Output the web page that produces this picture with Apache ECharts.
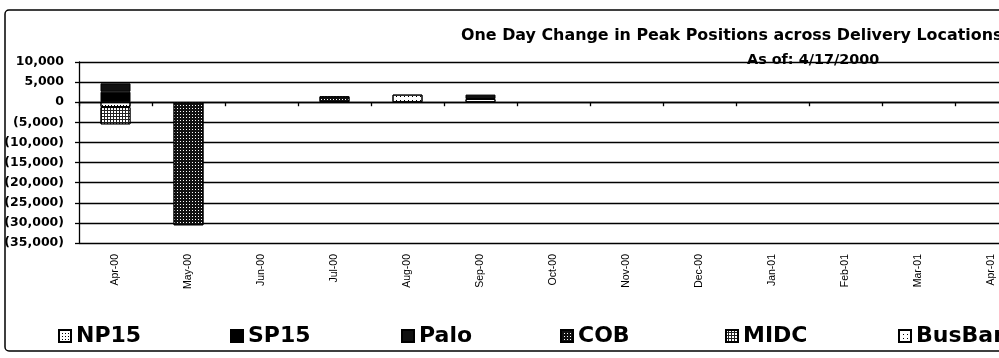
<!DOCTYPE html>
<html>
<head>
<meta charset="utf-8">
<script src="https://cdn.jsdelivr.net/npm/echarts@6/dist/echarts.min.js"></script>
<style>
  html, body { margin: 0; padding: 0; background: #fff; overflow: hidden; }
  #chart { width: 1040px; height: 358px; }
</style>
</head>
<body>
<div id="chart"></div>
<script>
// Delivery months on the category axis
const months = ['Apr-00', 'May-00', 'Jun-00', 'Jul-00', 'Aug-00', 'Sep-00', 'Oct-00',
                'Nov-00', 'Dec-00', 'Jan-01', 'Feb-01', 'Mar-01', 'Apr-01'];

// One-day change in peak position (MW) by delivery location
const np15   = [-1200,      0, 0,    0,    0,  800, 0, 0, 0, 0, 0, 0, 0];
const sp15   = [ 2600,      0, 0,    0,    0,    0, 0, 0, 0, 0, 0, 0, 0];
const palo   = [ 2100,      0, 0,    0,    0, 1100, 0, 0, 0, 0, 0, 0, 0];
const cob    = [    0, -30600, 0, 1500,    0,    0, 0, 0, 0, 0, 0, 0, 0];
const midc   = [-4300,      0, 0,    0,    0,    0, 0, 0, 0, 0, 0, 0, 0];
const busbar = [    0,      0, 0,    0, 1900,    0, 0, 0, 0, 0, 0, 0, 0];

// Location names in legend order
const locations = ['NP15', 'SP15', 'Palo', 'COB', 'MIDC', 'BusBar'];

// Value axis range and step
const yMin = -35000, yMax = 10000, yStep = 5000;

const titleText = 'One Day Change in Peak Positions across Delivery Locations';
const subtitleText = 'As of: 4/17/2000';

const FONT = '"DejaVu Sans", sans-serif';

function fmtNum(v) {
  const s = Math.abs(v).toLocaleString('en-US');
  return v < 0 ? '(' + s + ')' : s;
}

// Zero changes draw no bar segment at all
function segs(data) {
  return data.map(v => (v === 0 ? null : v));
}

function bar(name, data, color, decal) {
  const style = { color: color, borderColor: '#000', borderWidth: 1 };
  if (decal) style.decal = decal;
  return {
    name: name, type: 'bar', stack: 'loc', data: segs(data),
    barWidth: 30, xAxisIndex: 0, itemStyle: style
  };
}

// Legend entries spread evenly across the bottom band
const legendLeft = [58, 230, 401, 560, 725, 898];
const legends = locations.map((name, i) => ({
  left: legendLeft[i], top: 325, padding: 0,
  itemWidth: 12, itemHeight: 12, itemGap: 0,
  icon: 'rect',
  textStyle: { fontFamily: FONT, fontWeight: 'bold', fontSize: 22, color: '#000' },
  data: [name]
}));

const chart = echarts.init(document.getElementById('chart'), null, { renderer: 'canvas' });

chart.setOption({
  animation: false,
  backgroundColor: '#fff',
  title: [
    {
      text: titleText, left: 456, top: 23, padding: 5,
      textStyle: { fontFamily: FONT, fontWeight: 'bold', fontSize: 15.9, color: '#000' }
    },
    {
      text: subtitleText, left: 742, top: 48, padding: 5,
      textStyle: { fontFamily: FONT, fontWeight: 'bold', fontSize: 14.4, color: '#000' }
    }
  ],
  legend: legends,
  grid: { left: 79, top: 62, width: 949, height: 181, containLabel: false },
  xAxis: [
    {
      type: 'category', data: months, position: 'bottom',
      axisLine: { onZero: true, lineStyle: { color: '#000', width: 1.3 } },
      axisTick: { show: true, length: 4, lineStyle: { color: '#000', width: 1.3 } },
      axisLabel: { show: false },
      splitLine: { show: false }
    },
    {
      type: 'category', data: months, position: 'bottom',
      axisLine: { show: false, onZero: false },
      axisTick: { show: false },
      axisLabel: {
        interval: 0, rotate: 90, margin: 11,
        fontFamily: '"Liberation Sans", Arial, sans-serif', fontSize: 10.5, color: '#000'
      },
      splitLine: { show: false }
    }
  ],
  yAxis: {
    type: 'value', min: yMin, max: yMax, interval: yStep,
    axisLine: { show: true, lineStyle: { color: '#000', width: 1.3 } },
    axisTick: { show: true, length: 4, lineStyle: { color: '#000', width: 1.3 } },
    axisLabel: {
      formatter: fmtNum, margin: 15,
      fontFamily: FONT, fontWeight: 'bold', fontSize: 12.5, color: '#000'
    },
    splitLine: { show: true, lineStyle: { color: '#000', width: 1.3 } }
  },
  series: [
    bar('NP15', np15, '#fff', { symbol: 'rect', symbolSize: 1, color: '#000', dashArrayX: [1, 2], dashArrayY: [1, 2] }),
    bar('SP15', sp15, '#000'),
    bar('Palo', palo, '#111'),
    bar('COB', cob, '#111', { symbol: 'rect', symbolSize: 1, color: '#fff', dashArrayX: [1, 2], dashArrayY: [1, 2] }),
    bar('MIDC', midc, '#222', { symbol: 'rect', symbolSize: 1, color: '#fff', dashArrayX: [2, 1], dashArrayY: [2, 1] }),
    bar('BusBar', busbar, '#fff', { symbol: 'rect', symbolSize: 1, color: '#000', dashArrayX: [1, 3], dashArrayY: [1, 3] })
  ],
  graphic: [
    {
      type: 'rect', silent: true, z: 100,
      shape: { x: 5, y: 10, width: 1100, height: 341, r: 4 },
      style: { fill: null, stroke: '#000', lineWidth: 1.5 }
    }
  ]
});
</script>
</body>
</html>
